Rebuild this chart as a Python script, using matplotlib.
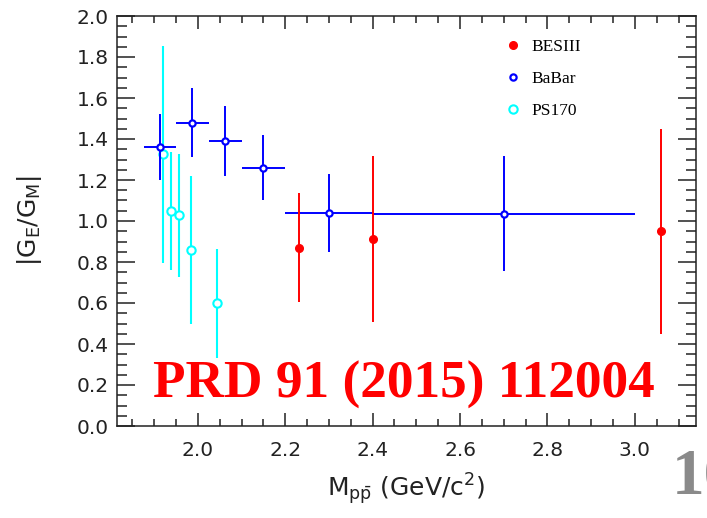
import numpy as np
import matplotlib
matplotlib.use("Agg")
import matplotlib.pyplot as plt
from matplotlib.lines import Line2D
from matplotlib.ticker import MultipleLocator, FormatStrFormatter

# BESIII points
besiii_x = [2.2324, 2.4000, 3.0600]
besiii_y = [0.87, 0.91, 0.95]
besiii_err = [0.265, 0.405, 0.50]

# BaBar points (x bins)
babar_x = [1.9135, 1.9875, 2.0625, 2.150, 2.300, 2.700]
babar_lo = [1.877, 1.950, 2.025, 2.100, 2.200, 2.400]
babar_hi = [1.950, 2.025, 2.100, 2.200, 2.400, 3.000]
babar_y = [1.36, 1.48, 1.39, 1.26, 1.04, 1.035]
babar_err = [0.16, 0.17, 0.17, 0.16, 0.19, 0.28]

# PS170 points
ps170_x = [1.921, 1.938, 1.957, 1.984, 2.043]
ps170_y = [1.325, 1.049, 1.028, 0.859, 0.598]
ps170_err = [0.53, 0.29, 0.30, 0.36, 0.265]

plt.rcParams['mathtext.default'] = 'regular'
plt.rcParams['font.family'] = 'DejaVu Sans'

RED = '#ff0000'
BLUE = '#0000ff'
CYAN = '#00ffff'

fig = plt.figure(figsize=(7.07, 5.18), dpi=100)
ax = fig.add_axes([117/707, 1 - 426/518, 579/707, 410/518])

bx = np.array(babar_x)
xerr_b = [bx - np.array(babar_lo), np.array(babar_hi) - bx]

ax.errorbar(ps170_x, ps170_y, yerr=ps170_err, fmt='o', color=CYAN, mfc='white',
            mec=CYAN, ms=6, mew=1.5, elinewidth=1.5, capsize=0, zorder=3)
ax.errorbar(babar_x, babar_y, xerr=xerr_b, yerr=babar_err, fmt='o', color=BLUE,
            mfc='white', mec=BLUE, ms=4.5, mew=1.6, elinewidth=1.4, capsize=0, zorder=4)
ax.errorbar(besiii_x, besiii_y, yerr=besiii_err, fmt='o', color=RED, ms=5.5,
            elinewidth=1.4, capsize=0, zorder=5)

ax.set_xlim(1.815, 3.14)
ax.set_ylim(0, 2.0)
ax.xaxis.set_major_locator(MultipleLocator(0.2))
ax.xaxis.set_minor_locator(MultipleLocator(0.05))
ax.yaxis.set_major_locator(MultipleLocator(0.2))
ax.yaxis.set_minor_locator(MultipleLocator(0.05))
ax.xaxis.set_major_formatter(FormatStrFormatter('%.1f'))
ax.yaxis.set_major_formatter(FormatStrFormatter('%.1f'))

for s in ax.spines.values():
    s.set_linewidth(1.1)
    s.set_color('#222222')

ax.tick_params(axis='both', which='both', direction='in', top=True, right=True,
               colors='#222222', labelcolor='#222222', labelsize=14.5, width=1.1)
ax.tick_params(axis='x', which='major', length=9.5, pad=11)
ax.tick_params(axis='x', which='minor', length=5)
ax.tick_params(axis='y', which='major', length=13, pad=6)
ax.tick_params(axis='y', which='minor', length=7.5)

ax.set_xlabel(r'M$_{p\bar{p}}$ (GeV/c$^2$)', fontsize=18, color='#222222', va='center')
ax.xaxis.set_label_coords(0.5, -(489 - 426) / 410)
ax.set_ylabel(r'|G$_E$/G$_M$|', fontsize=18, color='#222222', va='center')
ax.yaxis.set_label_coords(-(117 - 30) / 579, 0.5)

handles = [
    Line2D([], [], ls='none', marker='o', color=RED, ms=5.5),
    Line2D([], [], ls='none', marker='o', mfc='white', mec=BLUE, ms=4.5, mew=1.6),
    Line2D([], [], ls='none', marker='o', mfc='white', mec=CYAN, ms=6, mew=1.5),
]
ax.legend(handles, ['BESIII', 'BaBar', 'PS170'], loc='upper left',
          bbox_to_anchor=((505 - 117) / 579, 1 - (39 - 16) / 410),
          frameon=False, borderpad=0, borderaxespad=0, handlelength=0.9,
          handletextpad=0.6, labelspacing=0.92,
          prop={'family': 'Liberation Serif', 'size': 12.5})

fig.text(153 / 707, 1 - 398 / 518, 'PRD 91 (2015) 112004', color=RED,
         family='Liberation Serif', weight='bold', fontsize=38.3, va='baseline', ha='left')
# page number, partly off the right edge as in the source slide
fig.text(672 / 707, 1 - 493 / 518, '10', color='#8a8a8a',
         family='Liberation Serif', weight='bold', fontsize=47, va='baseline', ha='left')

fig.savefig('out.png', dpi=100)
